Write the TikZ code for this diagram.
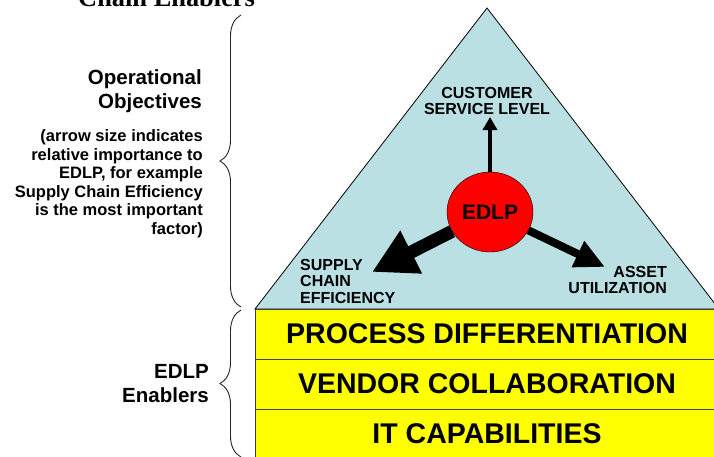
\documentclass[tikz,border=0pt]{standalone}
\usepackage{fontspec}
\setmainfont{Liberation Sans}
\newfontfamily\serifhead{Liberation Serif}
\usetikzlibrary{positioning,shapes.geometric,arrows.meta,decorations.pathreplacing}

\definecolor{pyramid}{RGB}{187,224,227}
\definecolor{bandyellow}{RGB}{255,255,0}
\definecolor{hubred}{RGB}{255,0,0}

\tikzset{
	band/.style={draw=black!75, fill=bandyellow, minimum width=464pt, minimum height=50pt, inner sep=0pt, font=\fontsize{28.5}{30}\selectfont\bfseries},
	goal/.style={inner sep=0pt, font=\fontsize{16}{16.5}\selectfont\bfseries},
	side/.style={inner sep=0pt, align=right, font=\fontsize{20.5}{24}\selectfont\bfseries},
	note/.style={inner sep=0pt, align=right, font=\fontsize{16.5}{18.5}\selectfont\bfseries},
	curly/.style={decorate, decoration={brace, amplitude=21pt}, draw=black!85, line width=0.9pt}
}

\begin{document}
\begin{tikzpicture}[x=1pt, y=-1pt, on grid, node distance=50pt]
	\useasboundingbox (0,0) rectangle (714,456);
	\coordinate (apex) at (487,8);
	\coordinate (baseL) at (255,309);
	\coordinate (baseR) at (719,309);
	\draw[fill=pyramid, line width=0.8pt] (apex) -- (baseR) -- (baseL) -- cycle;

	\node[band] (pd) at (487,334) {PROCESS DIFFERENTIATION};
	\node[band] (vc) [below=of pd] {VENDOR COLLABORATION};
	\node[band] (it) [below=of vc] {IT CAPABILITIES};

	\node[ellipse, draw, fill=hubred, minimum width=86pt, minimum height=80pt, inner sep=0pt, font=\fontsize{21}{21}\selectfont\bfseries] (edlp) at (490,212) {EDLP};

	\node[goal, align=center] (csl) at (487,101) {CUSTOMER\\SERVICE LEVEL};
	\node[goal, align=left, anchor=west] (sce) at (300,281) {SUPPLY\\CHAIN\\EFFICIENCY};
	\node[goal, align=right, anchor=east] (au) at (667,280) {ASSET\\UTILIZATION};

	\coordinate (cslTip) at (490,117);
	\coordinate (sceTip) at (372,272);
	\coordinate (auTip) at (605,267);
	\path
	 (edlp) edge [line width=3.5pt, -{Triangle[length=13pt,width=14pt]}] (cslTip)
	 (edlp) edge [line width=13pt, -{Triangle[length=44pt,width=45pt]}] (sceTip)
	 (edlp) edge [line width=8pt, -{Triangle[length=30pt,width=27pt]}] (auTip);

	\node[anchor=base west, inner sep=0pt, font=\serifhead\fontsize{26.4}{28}\selectfont\bfseries] (title) at (78,6) {Chain Enablers};
	\node[side, anchor=east] (ops) at (202,91) {Operational\\Objectives};
	\node[note, anchor=east] (why) at (203,183.6) {(arrow size indicates\\relative importance to\\EDLP, for example\\Supply Chain Efficiency\\is the most important\\factor)};
	\node[side, anchor=east] (enab) at (209,383.4) {EDLP\\Enablers};

	\coordinate (upTop) at (241,15);
	\coordinate (upBot) at (241,307);
	\coordinate (lowTop) at (241,310);
	\coordinate (lowBot) at (241,457);
	\draw[curly] (upBot) -- (upTop);
	\draw[curly] (lowBot) -- (lowTop);
\end{tikzpicture}
\end{document}
